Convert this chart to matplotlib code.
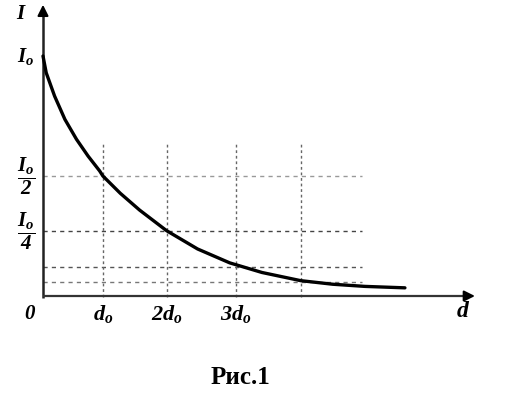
import matplotlib
matplotlib.use("Agg")
import matplotlib.pyplot as plt

# ---- data (x in units of d0, y in units of I0) ----
curve_x = [0, 0.05, 0.18, 0.34, 0.52, 0.70, 0.88, 0.93, 1.2, 1.5, 1.92,
           2.4, 2.9, 3.4, 4.0, 4.5, 5.0, 5.62]
curve_y = [1.0, 0.93, 0.833, 0.736, 0.653, 0.583, 0.521, 0.50, 0.428, 0.358,
           0.272, 0.196, 0.138, 0.098, 0.064, 0.049, 0.040, 0.034]
grid_x = [0.93, 1.92, 3.0, 4.0]
grid_y = [0.5, 0.27, 0.12, 0.06]
x_tick_labels = [r'$d_o$', r'$2d_o$', r'$3d_o$']
y_tick_pos = [1.0, 0.5, 0.27]
y_tick_labels = [r'$I_o$', r'$\dfrac{I_o}{2}$', r'$\dfrac{I_o}{4}$']
x_axis_label = r'$d$'
y_axis_label = r'$I$'
origin_label = r'$0$'
caption = 'Рис.1'

plt.rcParams['mathtext.fontset'] = 'custom'
plt.rcParams['mathtext.it'] = 'Liberation Serif:italic:bold'
plt.rcParams['mathtext.rm'] = 'Liberation Serif:italic:bold'
plt.rcParams['mathtext.bf'] = 'Liberation Serif:italic:bold'

fig = plt.figure(figsize=(5.30, 3.96), dpi=100)
ax = fig.add_axes([0, 0, 1, 1])
ax.set_xlim(-43 / 64.4, (530 - 43) / 64.4)
ax.set_ylim(-100 / 240, 296 / 240)
ax.axis('off')

hcolors = ['#999999', '#444444', '#555555', '#777777']
x_end_h = 4.95
y_top_v = 0.6375
for yv, c in zip(grid_y, hcolors):
    ax.plot([0, x_end_h], [yv, yv], color=c, lw=1.0, dashes=(3, 3))
for xv in grid_x:
    ax.plot([xv, xv], [-0.005, y_top_v], color='#666666', lw=1.0, dashes=(2, 2))

# axes with arrows
ax.plot([0, 0], [-0.01, 1.19], color='#222222', lw=1.8, solid_capstyle='butt')
ax.plot([0, 6.62], [0, 0], color='#333333', lw=1.6, solid_capstyle='butt')
ax.annotate('', xy=(0, 1.225), xytext=(0, 1.17),
            arrowprops=dict(arrowstyle='-|>', color='black', lw=1.5,
                            mutation_scale=16))
ax.annotate('', xy=(6.75, 0), xytext=(6.55, 0),
            arrowprops=dict(arrowstyle='-|>', color='black', lw=1.5,
                            mutation_scale=16))

# curve
ax.plot(curve_x, curve_y, color='black', lw=2.4, solid_capstyle='round',
        solid_joinstyle='round')

# labels
fs = 15
ax.text(-0.33, 1.18, y_axis_label, fontsize=fs, ha='center', va='center')
for yv, lab in zip(y_tick_pos, y_tick_labels):
    ax.text(-0.27, yv, lab, fontsize=fs, ha='center', va='center')
ax.text(-0.2, -0.07, origin_label, fontsize=fs, ha='center', va='center')
for xv, lab in zip(grid_x[:3], x_tick_labels):
    ax.text(xv, -0.075, lab, fontsize=fs + 1, ha='center', va='center')
ax.text(6.52, -0.06, x_axis_label, fontsize=fs + 2, ha='center', va='center')
ax.text((240 - 43) / 64.4, (296 - 378) / 240, caption, fontsize=18,
        family='Liberation Serif', fontweight='bold', ha='center', va='center')

fig.savefig('out.png', dpi=100)
